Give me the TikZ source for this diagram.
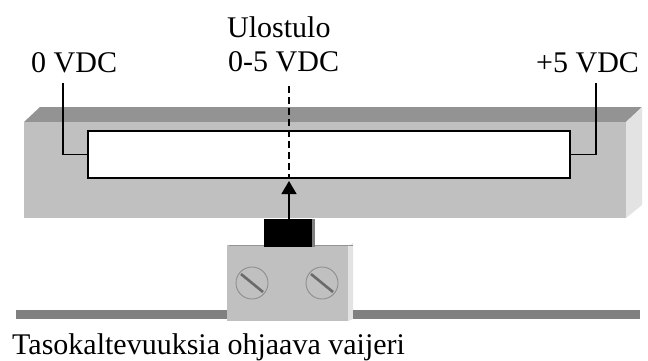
\documentclass[tikz,border=0pt]{standalone}
\usepackage{fontspec}
\setmainfont{Liberation Serif}
\usetikzlibrary{arrows.meta}
\definecolor{barfront}{HTML}{C0C0C0}
\definecolor{bartop}{HTML}{939393}
\definecolor{barside}{HTML}{E3E3E3}
\definecolor{wiregray}{HTML}{808080}
\definecolor{clampgray}{HTML}{C0C0C0}
\definecolor{screwrim}{HTML}{8E8E8E}
\definecolor{screwslot}{HTML}{6A6A6A}
\begin{document}
\begin{tikzpicture}[x=1pt,y=-1pt,
  lbl/.style={font=\fontsize{30}{30}\selectfont, inner sep=0pt, anchor=base west},
  lead/.style={line width=1.6pt, black},
  box/.style={inner sep=0pt, outer sep=0pt, anchor=north west},
  screw/.style={draw=screwrim, line width=0.9pt, fill=clampgray},
  slash/.style={line width=2.6pt, screwslot}]
\useasboundingbox (0,0) rectangle (648,360);
\fill[white] (0,0) rectangle (648,360);

% potentiometer bar: top, side and front faces
\fill[bartop] (24,122) -- (40,107) -- (642,107) -- (626,122) -- cycle;
\fill[barside] (626,122) -- (642,107) -- (642,205) -- (626,218) -- cycle;
\fill[barfront] (24,122) rectangle (626,218);

% resistive track
\node[box, draw, line width=1.6pt, fill=white, minimum width=482, minimum height=47] (slot) at (88,131) {};

% labels
\node[lbl] (v0) at (31,72) {0 VDC};
\node[lbl] (title) at (227,37) {Ulostulo};
\node[lbl] (vout) at (228,71) {0-5 VDC};
\node[lbl] (v5) at (536,72) {+5 VDC};
\node[lbl] (cap) at (12,354) {Tasokaltevuuksia ohjaava vaijeri};

% supply leads
\coordinate (l0) at (63,83);
\coordinate (l5) at (596,83);
\coordinate (lo) at (289,86);
\draw[lead] (l0) |- (slot.west);
\draw[lead] (l5) |- (slot.east);

% wire clamp
\fill[barside] (348,247) -- (353,243) -- (353,319) -- (348,321) -- cycle;
\node[box, fill=clampgray, minimum width=121, minimum height=76] (clamp) at (227,245) {};
\draw[line width=0.8pt, color=bartop] (229,245.4) -- (353,245.4);
\foreach \sx/\nm in {252/s1, 322/s2}{
  \coordinate (\nm) at (\sx,283);
  \draw[screw] (\nm) circle[radius=16];
  \draw[slash] (\nm) ++(-11,-9) -- ++(22,18);
}

% slider block
\node[box, fill=black, minimum width=51, minimum height=28] (block) at (264,219) {};
\fill[wiregray] (312,219) rectangle (315,247);

% wiper
\coordinate (tip) at (289,181);
\draw[line width=1.3pt, dash pattern=on 7pt off 4pt] (lo) -- (lo |- slot.south);
\draw[line width=1.4pt, -{Triangle[length=13pt,width=15pt]}] (block.north -| tip) -- (tip);

% cable
\fill[wiregray] (16,310) rectangle (clamp.west |- 0,319);
\fill[wiregray] (353,310) rectangle (640,319);
\end{tikzpicture}
\end{document}
